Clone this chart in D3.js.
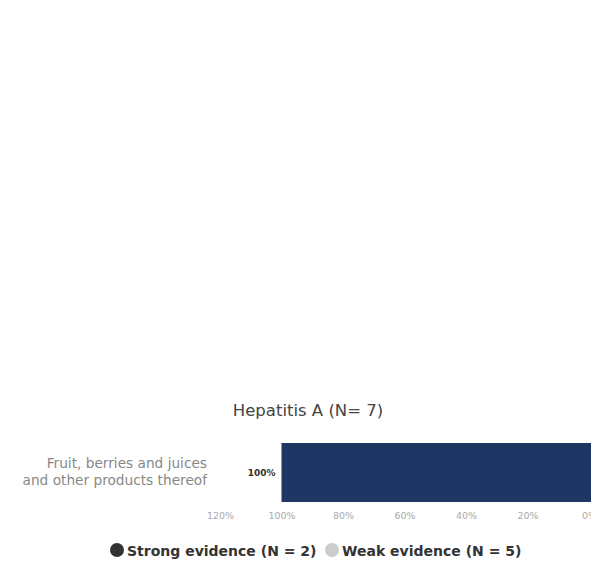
<!DOCTYPE html>
<html><head><meta charset="utf-8">
<script src="https://cdn.jsdelivr.net/npm/d3@7"></script>
<style>html,body{margin:0;padding:0;background:#fff;overflow:hidden}</style>
</head><body>
<svg id="c" width="591" height="565"></svg>
<script>
const title = "Hepatitis A (N= 7)";
const categories = [["Fruit, berries and juices", "and other products thereof"]];
const strongValues = [1.0];
const tickValues = [1.2, 1.0, 0.8, 0.6, 0.4, 0.2, 0];
const legendItems = ["Strong evidence (N = 2)", "Weak evidence (N = 5)"];
const legendColors = ["#333333", "#cccccc"];

const svg = d3.select("#c");
const font = "'DejaVu Sans', sans-serif";

svg.append("text").attr("x", 308).attr("y", 416).attr("text-anchor", "middle")
  .attr("font-family", font).attr("font-size", 16.5).attr("fill", "#444").text(title);

const x = d3.scaleLinear().domain([1.2, 0]).range([220, 589]);
const y = d3.scaleBand().domain(categories.map((d, i) => i)).range([443, 502]).padding(0);

svg.selectAll("rect.bar").data(strongValues).join("rect").attr("class", "bar")
  .attr("x", d => x(d))
  .attr("y", (d, i) => y(i)).attr("height", y.bandwidth())
  .attr("width", d => x(0) - x(d) + 3).attr("fill", "#1f3564");

svg.selectAll("text.val").data(strongValues).join("text").attr("class", "val")
  .attr("x", d => x(d) - 6).attr("y", (d, i) => y(i) + y.bandwidth() / 2 + 3)
  .attr("text-anchor", "end").attr("font-family", font).attr("font-size", 9)
  .attr("font-weight", "bold").attr("fill", "#333").text(d => d3.format(".0%")(d));

categories.forEach((lines, i) => {
  const t = svg.append("text").attr("text-anchor", "end").attr("font-family", font)
    .attr("font-size", 13.7).attr("fill", "#888");
  lines.forEach((l, j) => {
    t.append("tspan").attr("x", 207).attr("y", y(i) + y.bandwidth() / 2 - 5 + j * 17).text(l);
  });
});

const axis = d3.axisBottom(x).tickValues(tickValues).tickFormat(d3.format(".0%")).tickSize(0).tickPadding(0);
const g = svg.append("g").attr("transform", "translate(0,512)").call(axis);
g.select(".domain").remove();
g.selectAll("text").attr("font-family", font).attr("font-size", 9.5).attr("fill", "#aaa");

const leg = svg.append("g").attr("font-family", font).attr("font-size", 14).attr("font-weight", "bold").attr("fill", "#333");
const legX = [117, 332];
legendItems.forEach((t, i) => {
  leg.append("circle").attr("cx", legX[i]).attr("cy", 550).attr("r", 7).attr("fill", legendColors[i]);
  leg.append("text").attr("x", legX[i] + 10).attr("y", 556).text(t);
});
</script>
</body></html>
